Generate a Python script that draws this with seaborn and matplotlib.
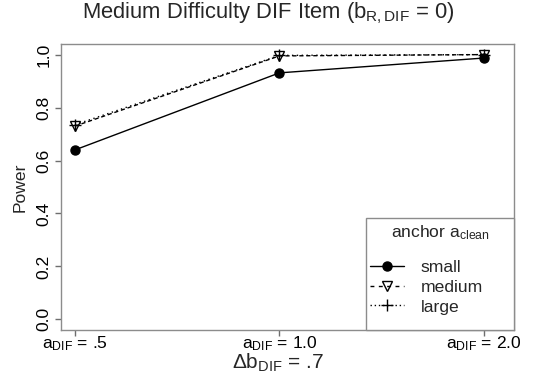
import matplotlib
matplotlib.use("Agg")
import matplotlib.pyplot as plt
import seaborn as sns
import pandas as pd
from matplotlib.patches import Rectangle
from matplotlib.lines import Line2D

# ---- data ----
x_pos = [1, 2, 3]
x_labels = [r"$\mathrm{a_{DIF}}$ = .5", r"$\mathrm{a_{DIF}}$ = 1.0", r"$\mathrm{a_{DIF}}$ = 2.0"]
anchor_groups = ["small", "medium", "large"]
power_small = [0.64, 0.931, 0.987]
power_medium = [0.73, 0.995, 1.0]
power_large = [0.735, 0.997, 1.0]
y_ticks = [0.0, 0.2, 0.4, 0.6, 0.8, 1.0]

sns.set_theme(style="white")
plt.rcParams["font.family"] = ["Liberation Sans", "DejaVu Sans"]
plt.rcParams["mathtext.fontset"] = "custom"
plt.rcParams["mathtext.rm"] = "Liberation Sans"
plt.rcParams["mathtext.it"] = "Liberation Sans:italic"
plt.rcParams["mathtext.bf"] = "Liberation Sans:bold"

FS = 12.6
W, H = 537, 378
fig = plt.figure(figsize=(W/100, H/100), dpi=100)
ax = fig.add_axes([61/W, 1-330/H, 453/W, 286/H])

def ax_x(px):
    return (px - 61) / 453

def ax_y(py):
    return (330 - py) / 286

styles = {
    "small": dict(marker="o", markersize=6.5, markerfacecolor="black", markeredgecolor="black"),
    "medium": dict(marker="v", markersize=7.5, markerfacecolor="none", markeredgecolor="black"),
    "large": dict(marker="+", markersize=8.5, markeredgecolor="black"),
}
line_dashes = {"small": None, "medium": (3, 2), "large": (1, 2.5)}
legend_dashes = {"small": None, "medium": (2.8, 3.2), "large": (1, 2)}
series = {"small": power_small, "medium": power_medium, "large": power_large}

handles = []
for g in anchor_groups:
    df = pd.DataFrame({"x": x_pos, "power": series[g]})
    sns.lineplot(data=df, x="x", y="power", ax=ax, color="black", linewidth=1.0,
                 markeredgewidth=1.0, **styles[g])
    if line_dashes[g] is not None:
        ax.lines[-1].set_dashes(line_dashes[g])
    h = Line2D([0], [0], color="black", linewidth=1.0, markeredgewidth=1.0, **styles[g])
    if legend_dashes[g] is not None:
        h.set_dashes(legend_dashes[g])
    handles.append(h)

ax.set_xlim(0.932, 3.147)
ax.set_ylim(-0.04, 1.04)
ax.set_xticks(x_pos)
ax.set_xticklabels(x_labels, fontsize=FS)
ax.set_yticks(y_ticks)
ax.set_yticklabels([f"{v:.1f}" for v in y_ticks], fontsize=FS, rotation=90, va="center")

for s in ax.spines.values():
    s.set_color("#8c8c8c")
    s.set_linewidth(1.0)
ax.tick_params(axis="both", which="both", direction="out", length=4.3, width=1.0,
               color="#6e6e6e", labelcolor="black", bottom=True, left=True)
ax.tick_params(axis="x", pad=-1)
ax.tick_params(axis="y", pad=2.3)

ax.set_xlabel(r"$\mathrm{\Delta b_{DIF}}$ = .7", fontsize=15)
ax.xaxis.label.set_va("baseline")
ax.xaxis.set_label_coords(ax_x(278), ax_y(369))
ax.set_ylabel("Power", fontsize=FS)
ax.yaxis.label.set_va("baseline")
ax.yaxis.set_label_coords(ax_x(25), 0.5)
fig.suptitle(r"Medium Difficulty DIF Item ($\mathrm{b_{R,DIF}}$ = 0)", fontsize=15.8,
             x=0.5, y=1 - 18/H, va="baseline")

# legend box
rect = Rectangle((ax_x(366), 0), 1 - ax_x(366), ax_y(218), transform=ax.transAxes,
                 facecolor="white", edgecolor="#8c8c8c", linewidth=1.0, zorder=5, clip_on=False)
ax.add_patch(rect)
ax.text(ax_x(440), ax_y(237), r"anchor $\mathrm{a_{clean}}$", transform=ax.transAxes,
        ha="center", va="baseline", fontsize=FS, zorder=6)
leg = ax.legend(handles, anchor_groups, loc="center left",
                bbox_to_anchor=(ax_x(370), ax_y(287)), frameon=False,
                fontsize=FS, handlelength=1.95, handletextpad=0.95, labelspacing=0.27,
                borderpad=0, borderaxespad=0)
leg.set_zorder(7)

fig.savefig("out.png", dpi=100)
